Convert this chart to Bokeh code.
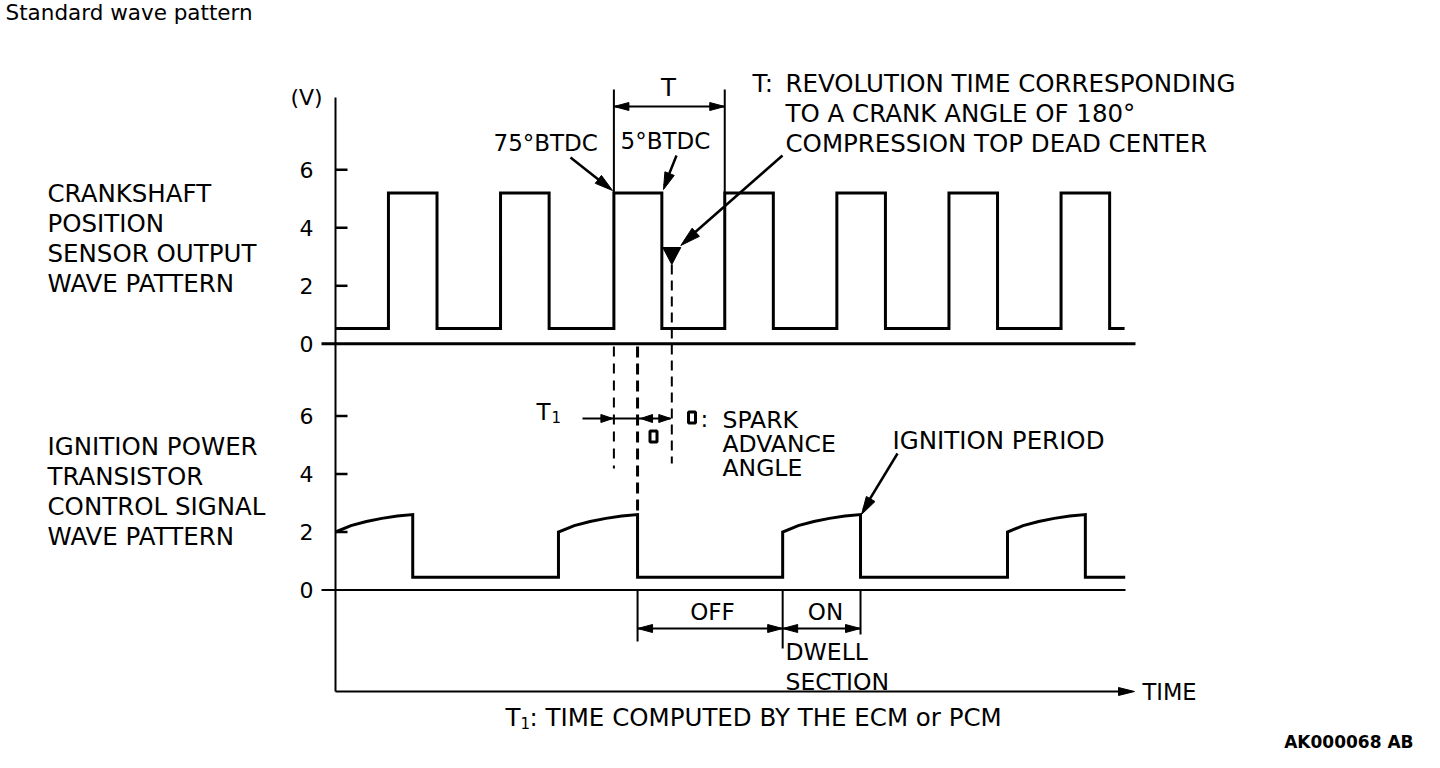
from bokeh.plotting import figure
from bokeh.models import Range1d
from bokeh.embed import file_html
from bokeh.resources import INLINE
from bokeh.core.properties import value

# ---------------- data ----------------
volt_ticks = [0, 2, 4, 6]
volt_tick_labels = ["0", "2", "4", "6"]

# crankshaft position sensor output (time axis in crank degrees)
crank_start_deg = 0
crank_rise_deg = [85, 265, 447, 625, 805, 985, 1165]
crank_fall_deg = [163, 343, 524, 703, 883, 1063, 1243]
crank_end_deg = 1267
crank_high_v = 5.2
crank_low_v = 0.53
tdc_deg = 540  # compression top dead center marker

# ignition power transistor control signal
ig_dwell_start_deg = [0, 358, 718, 1079]
ig_dwell_end_deg = [124, 485, 843, 1204]
ig_end_deg = 1268
ig_low_v = 0.44
dwell_shape_frac = [0.0, 0.2, 0.4, 0.6, 0.8, 1.0]
dwell_shape_v = [2.0, 2.22, 2.36, 2.47, 2.55, 2.6]

# ---------------- geometry ----------------
W, H = 1424, 752
PX_PER_DEG = 0.6228
AXIS_X = 335.0
PX_PER_V = 29.0
UP_ZERO = 343.3
LO_ZERO = 589.5


def d2p(d):
    return AXIS_X + d * PX_PER_DEG


FONT = value("DejaVu Sans")

p = figure(width=W, height=H, output_backend="svg", toolbar_location=None,
           x_range=Range1d(0, W), y_range=Range1d(H, 0),
           min_border=0, min_border_left=0, min_border_right=0,
           min_border_top=0, min_border_bottom=0)
p.axis.visible = False
p.grid.visible = False
p.outline_line_color = None
p.background_fill_color = "white"
p.border_fill_color = "white"

p.extra_x_ranges = {"deg": Range1d((0 - AXIS_X) / PX_PER_DEG, (W - AXIS_X) / PX_PER_DEG)}
p.extra_y_ranges = {
    "vu": Range1d((UP_ZERO - H) / PX_PER_V, UP_ZERO / PX_PER_V),
    "vl": Range1d((LO_ZERO - H) / PX_PER_V, LO_ZERO / PX_PER_V),
}

K = "black"

# ---------------- axes ----------------
p.line([AXIS_X, AXIS_X], [97, 691], line_color=K, line_width=2)
p.line([AXIS_X, 1120], [691, 691], line_color=K, line_width=2)
p.line([321, 1135], [UP_ZERO, UP_ZERO], line_color=K, line_width=3)
p.line([321, 1125], [LO_ZERO, LO_ZERO], line_color=K, line_width=2)
tk = [t for t in volt_ticks if t > 0]
p.segment(x0=[AXIS_X] * len(tk), x1=[AXIS_X + 12] * len(tk), y0=tk, y1=tk,
          y_range_name="vu", line_color=K, line_width=2.5)
p.segment(x0=[AXIS_X] * len(tk), x1=[AXIS_X + 12] * len(tk), y0=tk, y1=tk,
          y_range_name="vl", line_color=K, line_width=2.5)
for rng in ("vu", "vl"):
    p.text(x=[306] * len(volt_ticks), y=volt_ticks, text=volt_tick_labels,
           y_range_name=rng, text_align="center", text_baseline="middle",
           text_font=FONT, text_font_size="22px", text_color=K)
p.text(x=[306], y=[97], text=["(V)"], text_align="center", text_baseline="middle",
       text_font=FONT, text_font_size="22px", text_color=K)

# ---------------- waves ----------------
cx, cy = [crank_start_deg], [crank_low_v]
for r, f in zip(crank_rise_deg, crank_fall_deg):
    cx += [r, r, f, f]
    cy += [crank_low_v, crank_high_v, crank_high_v, crank_low_v]
cx.append(crank_end_deg)
cy.append(crank_low_v)
p.line(cx, cy, x_range_name="deg", y_range_name="vu", line_color=K,
       line_width=3, line_join="miter")

ix, iy = [], []
for s, e in zip(ig_dwell_start_deg, ig_dwell_end_deg):
    if ix:
        ix.append(s)
        iy.append(ig_low_v)
    for fr, v in zip(dwell_shape_frac, dwell_shape_v):
        ix.append(s + fr * (e - s))
        iy.append(v)
    ix.append(e)
    iy.append(ig_low_v)
ix.append(ig_end_deg)
iy.append(ig_low_v)
p.line(ix, iy, x_range_name="deg", y_range_name="vl", line_color=K,
       line_width=3, line_join="miter")

# ---------------- reference lines ----------------
rise_T0 = crank_rise_deg[2]
rise_T1 = crank_rise_deg[3]
ign = ig_dwell_end_deg[1]
p.segment(x0=[rise_T0, rise_T1], x1=[rise_T0, rise_T1], y0=[89, 89], y1=[192, 192],
          x_range_name="deg", line_color=K, line_width=2)
p.segment(x0=[rise_T0], x1=[rise_T0], y0=[346], y1=[468], x_range_name="deg",
          line_color=K, line_width=2, line_dash="10 7")
p.segment(x0=[ign], x1=[ign], y0=[346], y1=[516], x_range_name="deg",
          line_color=K, line_width=3, line_dash="11 6")
p.segment(x0=[tdc_deg], x1=[tdc_deg], y0=[264], y1=[463], x_range_name="deg",
          line_color=K, line_width=2, line_dash="10 6")
off_s = ig_dwell_end_deg[1]
on_s = ig_dwell_start_deg[2]
on_e = ig_dwell_end_deg[2]
p.segment(x0=[off_s, on_s, on_e], x1=[off_s, on_s, on_e], y0=[LO_ZERO] * 3,
          y1=[641, 648, 634], x_range_name="deg", line_color=K, line_width=2)

# ---------------- arrows ----------------
heads_x, heads_y = [], []


def head(tip, frm, L=15, Wd=8):
    dx, dy = tip[0] - frm[0], tip[1] - frm[1]
    n = (dx * dx + dy * dy) ** 0.5
    ux, uy = dx / n, dy / n
    bx, by = tip[0] - ux * L, tip[1] - uy * L
    nx, ny = -uy, ux
    heads_x.append([tip[0], bx + nx * Wd / 2, bx - nx * Wd / 2])
    heads_y.append([tip[1], by + ny * Wd / 2, by - ny * Wd / 2])


def shaft(a, b, w=2):
    p.line([a[0], b[0]], [a[1], b[1]], line_color=K, line_width=w)


xa, xb = d2p(rise_T0), d2p(rise_T1)
shaft((xa, 106), (xb, 106))
head((xa, 106), (xb, 106))
head((xb, 106), (xa, 106))

shaft((570, 157), (608, 187), 2.5)
head((612, 190), (570, 157), 18, 10)
shaft((676, 155), (664, 185), 2.5)
head((663, 189), (676, 155), 17, 10)

tdc_px = d2p(tdc_deg)
shaft((782, 155), (684, 241), 2.5)
head((tdc_px + 9, 245), (782, 155), 20, 11)
p.patches([[tdc_px - 9, tdc_px + 9, tdc_px]], [[247, 247, 264]], fill_color=K, line_color=K)

ig_px = d2p(ign)
shaft((582, 418), (670, 418))
head((xa - 1, 418), (582, 418), 12, 8)
head((ig_px + 3, 418), (670, 418), 12, 8)
head((tdc_px - 1, 418), (ig_px, 418), 12, 8)

shaft((897, 453), (863, 509), 2.5)
head((d2p(ig_dwell_end_deg[2]) + 1, 514), (897, 453), 18, 10)

y_oo = 628
shaft((d2p(off_s), y_oo), (d2p(on_e), y_oo))
head((d2p(off_s), y_oo), (d2p(on_s), y_oo))
head((d2p(on_s), y_oo), (d2p(off_s), y_oo))
head((d2p(on_s), y_oo), (d2p(on_e), y_oo))
head((d2p(on_e), y_oo), (d2p(on_s), y_oo))

head((1134, 691), (335, 691), 16, 8)

p.patches(heads_x, heads_y, fill_color=K, line_color=K, line_width=1)

p.rect(x=[653, 691.5], y=[436, 417], width=7, height=11, fill_color=None,
       line_color=K, line_width=3)

# ---------------- texts ----------------


def txt(x, y, s, size="24.5px", align="left", style="normal"):
    p.text(x=[x], y=[y], text=[s], text_align=align, text_baseline="middle",
           text_font=FONT, text_font_size=size, text_color=K,
           text_font_style=style)


txt(5, 12, "Standard wave pattern", "21.5px")
for s, y in zip(["CRANKSHAFT", "POSITION", "SENSOR OUTPUT", "WAVE PATTERN"],
                [193, 223, 253, 283]):
    txt(47, y, s)
for s, y in zip(["IGNITION POWER", "TRANSISTOR", "CONTROL SIGNAL", "WAVE PATTERN"],
                [446, 476, 506, 536]):
    txt(47, y, s)

txt(493, 142, "75°BTDC", "23px")
txt(620, 140, "5°BTDC", "23px")
txt(668, 87, "T", "24.5px", "center")
txt(752, 83, "T:")
txt(785, 83, "REVOLUTION TIME CORRESPONDING")
txt(785, 113, "TO A CRANK ANGLE OF 180°")
txt(785, 143, "COMPRESSION TOP DEAD CENTER")

txt(536, 411, "T", "23px")
txt(551, 416, "1", "15px")
txt(700, 418, ":", "23px")
txt(722, 419, "SPARK", "23.5px")
txt(722, 443, "ADVANCE", "23.5px")
txt(722, 467, "ANGLE", "23.5px")
txt(892, 440, "IGNITION PERIOD")

txt(712, 611, "OFF", "23px", "center")
txt(825, 611, "ON", "23px", "center")
txt(785, 651, "DWELL", "23.5px")
txt(785, 681, "SECTION", "23.5px")
txt(1142, 691, "TIME", "22.5px")

txt(505, 717, "T", "24.5px")
txt(520, 722, "1", "15px")
txt(529, 717, ": TIME COMPUTED BY THE ECM or PCM", "24.5px")
txt(1413, 741, "AK000068 AB", "17px", "right", "bold")

open("out.html", "w").write(file_html(p, INLINE))
